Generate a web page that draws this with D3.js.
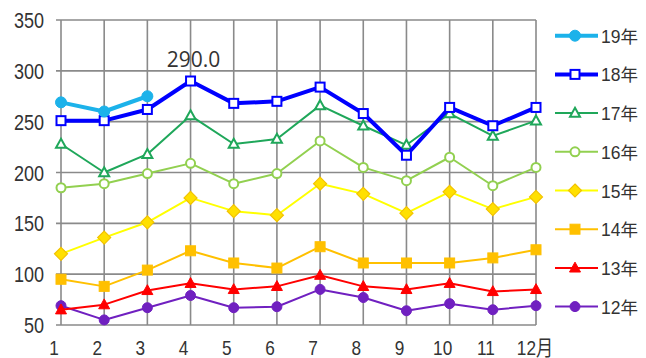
<!DOCTYPE html>
<html>
<head>
<meta charset="utf-8">
<script src="https://cdn.jsdelivr.net/npm/d3@7"></script>
<style>
  html, body { margin: 0; padding: 0; background: #fff; }
  svg { display: block; }
  .tick-label { font-family: "Liberation Sans", "Noto Sans CJK JP", sans-serif; fill: #333; }
</style>
</head>
<body>
<svg id="chart" width="646" height="358"></svg>
<script>
// Monthly values per year (months 1-12)
const months = [1, 2, 3, 4, 5, 6, 7, 8, 9, 10, 11, 12];
const monthLabels = ["1", "2", "3", "4", "5", "6", "7", "8", "9", "10", "11", "12月"];
const yTicks = [50, 100, 150, 200, 250, 300, 350];

const y12 = [69, 55, 67, 79, 67, 68, 85, 77, 64, 71, 65, 69];
const y13 = [65, 70, 84, 91, 85, 88, 99, 88, 85, 91, 83, 85];
const y14 = [95, 88, 104, 123, 111, 106, 127, 111, 111, 111, 116, 124];
const y15 = [120, 136, 151, 175, 162, 158, 189, 179, 160, 181, 164, 176];
const y16 = [185, 189, 199, 209, 189, 199, 231, 205, 192, 215, 187, 205];
const y17 = [228, 200, 218, 256, 228, 233, 266, 246, 227, 258, 236, 251];
const y18 = [251, 251, 262, 290, 268, 270, 284, 258, 217, 264, 246, 264];
const y19 = [269, 260, 275];

const seriesNames = ["12年", "13年", "14年", "15年", "16年", "17年", "18年", "19年"];

const series = [
  { name: seriesNames[0], values: y12, color: "#7020C0", width: 2, marker: "circle", fill: "#7020C0", size: 5 },
  { name: seriesNames[1], values: y13, color: "#FF0000", width: 2, marker: "triangle", fill: "#FF0000", size: 5.5 },
  { name: seriesNames[2], values: y14, color: "#FFC000", width: 2, marker: "square", fill: "#FFC000", size: 5 },
  { name: seriesNames[3], values: y15, color: "#FFFF00", width: 2, marker: "diamond", fill: "#FFE000", stroke: "#F2C200", size: 6.5 },
  { name: seriesNames[4], values: y16, color: "#92D050", width: 2, marker: "circle", fill: "#fff", size: 4.5 },
  { name: seriesNames[5], values: y17, color: "#1FA75A", width: 2, marker: "triangle", fill: "#fff", size: 5 },
  { name: seriesNames[6], values: y18, color: "#0000FF", width: 4, marker: "square", fill: "#fff", size: 4.5 },
  { name: seriesNames[7], values: y19, color: "#1CB2EA", width: 4, marker: "circle", fill: "#1CB2EA", size: 5.5 }
];

const svg = d3.select("#chart");
const plot = { left: 61, right: 536, top: 20, bottom: 325 };

const x = d3.scaleLinear().domain([1, 12]).range([plot.left, plot.right]);
const y = d3.scaleLinear().domain([50, 350]).range([plot.bottom, plot.top]);

// Grid
const grid = svg.append("g").attr("stroke", "#8a8a8a").attr("stroke-width", 1.6);
grid.selectAll("line.h").data(yTicks).join("line")
  .attr("x1", plot.left - 5).attr("x2", plot.right)
  .attr("y1", d => y(d)).attr("y2", d => y(d));
grid.selectAll("line.v").data(months).join("line")
  .attr("x1", d => x(d)).attr("x2", d => x(d))
  .attr("y1", plot.top).attr("y2", plot.bottom);

// Axis labels, horizontally condensed
svg.append("g").selectAll("text").data(yTicks).join("text")
  .attr("class", "tick-label")
  .attr("transform", d => `translate(44,${y(d) + 8}) scale(0.82,1)`)
  .attr("text-anchor", "end")
  .attr("font-size", 22)
  .text(d => d);

svg.append("g").selectAll("text").data(months).join("text")
  .attr("class", "tick-label")
  .attr("transform", (d, i) => `translate(${i === 11 ? x(d) - 1 : x(d) - 7},355) scale(0.82,1)`)
  .attr("text-anchor", "middle")
  .attr("font-size", 21)
  .text((d, i) => monthLabels[i]);

// Marker drawing
function drawMarker(g, s, cx, cy) {
  const r = s.size;
  const stroke = s.stroke || s.color;
  const sw = s.fill === "#fff" ? 2 : 1;
  if (s.marker === "circle") {
    g.append("circle").attr("cx", cx).attr("cy", cy).attr("r", r)
      .attr("fill", s.fill).attr("stroke", stroke).attr("stroke-width", sw);
  } else if (s.marker === "square") {
    g.append("rect").attr("x", cx - r).attr("y", cy - r).attr("width", 2 * r).attr("height", 2 * r)
      .attr("fill", s.fill).attr("stroke", stroke).attr("stroke-width", sw);
  } else if (s.marker === "triangle") {
    const pts = [[cx, cy - r * 1.05], [cx + r, cy + r * 0.75], [cx - r, cy + r * 0.75]];
    g.append("polygon").attr("points", pts.map(p => p.join(",")).join(" "))
      .attr("fill", s.fill).attr("stroke", stroke).attr("stroke-width", sw);
  } else if (s.marker === "diamond") {
    const pts = [[cx, cy - r], [cx + r, cy], [cx, cy + r], [cx - r, cy]];
    g.append("polygon").attr("points", pts.map(p => p.join(",")).join(" "))
      .attr("fill", s.fill).attr("stroke", stroke).attr("stroke-width", 1.2);
  }
}

const line = d3.line().x((d, i) => x(months[i])).y(d => y(d));

series.forEach(s => {
  const g = svg.append("g");
  g.append("path").datum(s.values)
    .attr("fill", "none").attr("stroke", s.color)
    .attr("stroke-width", s.width).attr("stroke-linejoin", "round")
    .attr("d", line);
  s.values.forEach((v, i) => drawMarker(g, s, x(months[i]), y(v)));
});

// Data label for the April peak
const peakVal = y18[3];
svg.append("text")
  .attr("x", x(4) + 3).attr("y", y(peakVal) - 14)
  .attr("text-anchor", "middle")
  .attr("font-size", 21)
  .attr("font-family", "'Open Sans', 'Liberation Sans', sans-serif")
  .attr("fill", "#333")
  .text(peakVal.toFixed(1));

// Legend, newest year on top
const legend = svg.append("g");
series.slice().reverse().forEach((s, i) => {
  const ly = 35.7 + i * 38.7;
  const g = legend.append("g");
  g.append("line").attr("x1", 555).attr("x2", 598).attr("y1", ly).attr("y2", ly)
    .attr("stroke", s.color).attr("stroke-width", s.width);
  drawMarker(g, s, 575, ly);
  g.append("text").attr("x", 601).attr("y", ly + 7)
    .attr("font-size", 17.5)
    .attr("font-family", "'Liberation Sans', 'Noto Sans CJK JP', sans-serif")
    .attr("fill", "#333")
    .text(s.name);
});
</script>
</body>
</html>
